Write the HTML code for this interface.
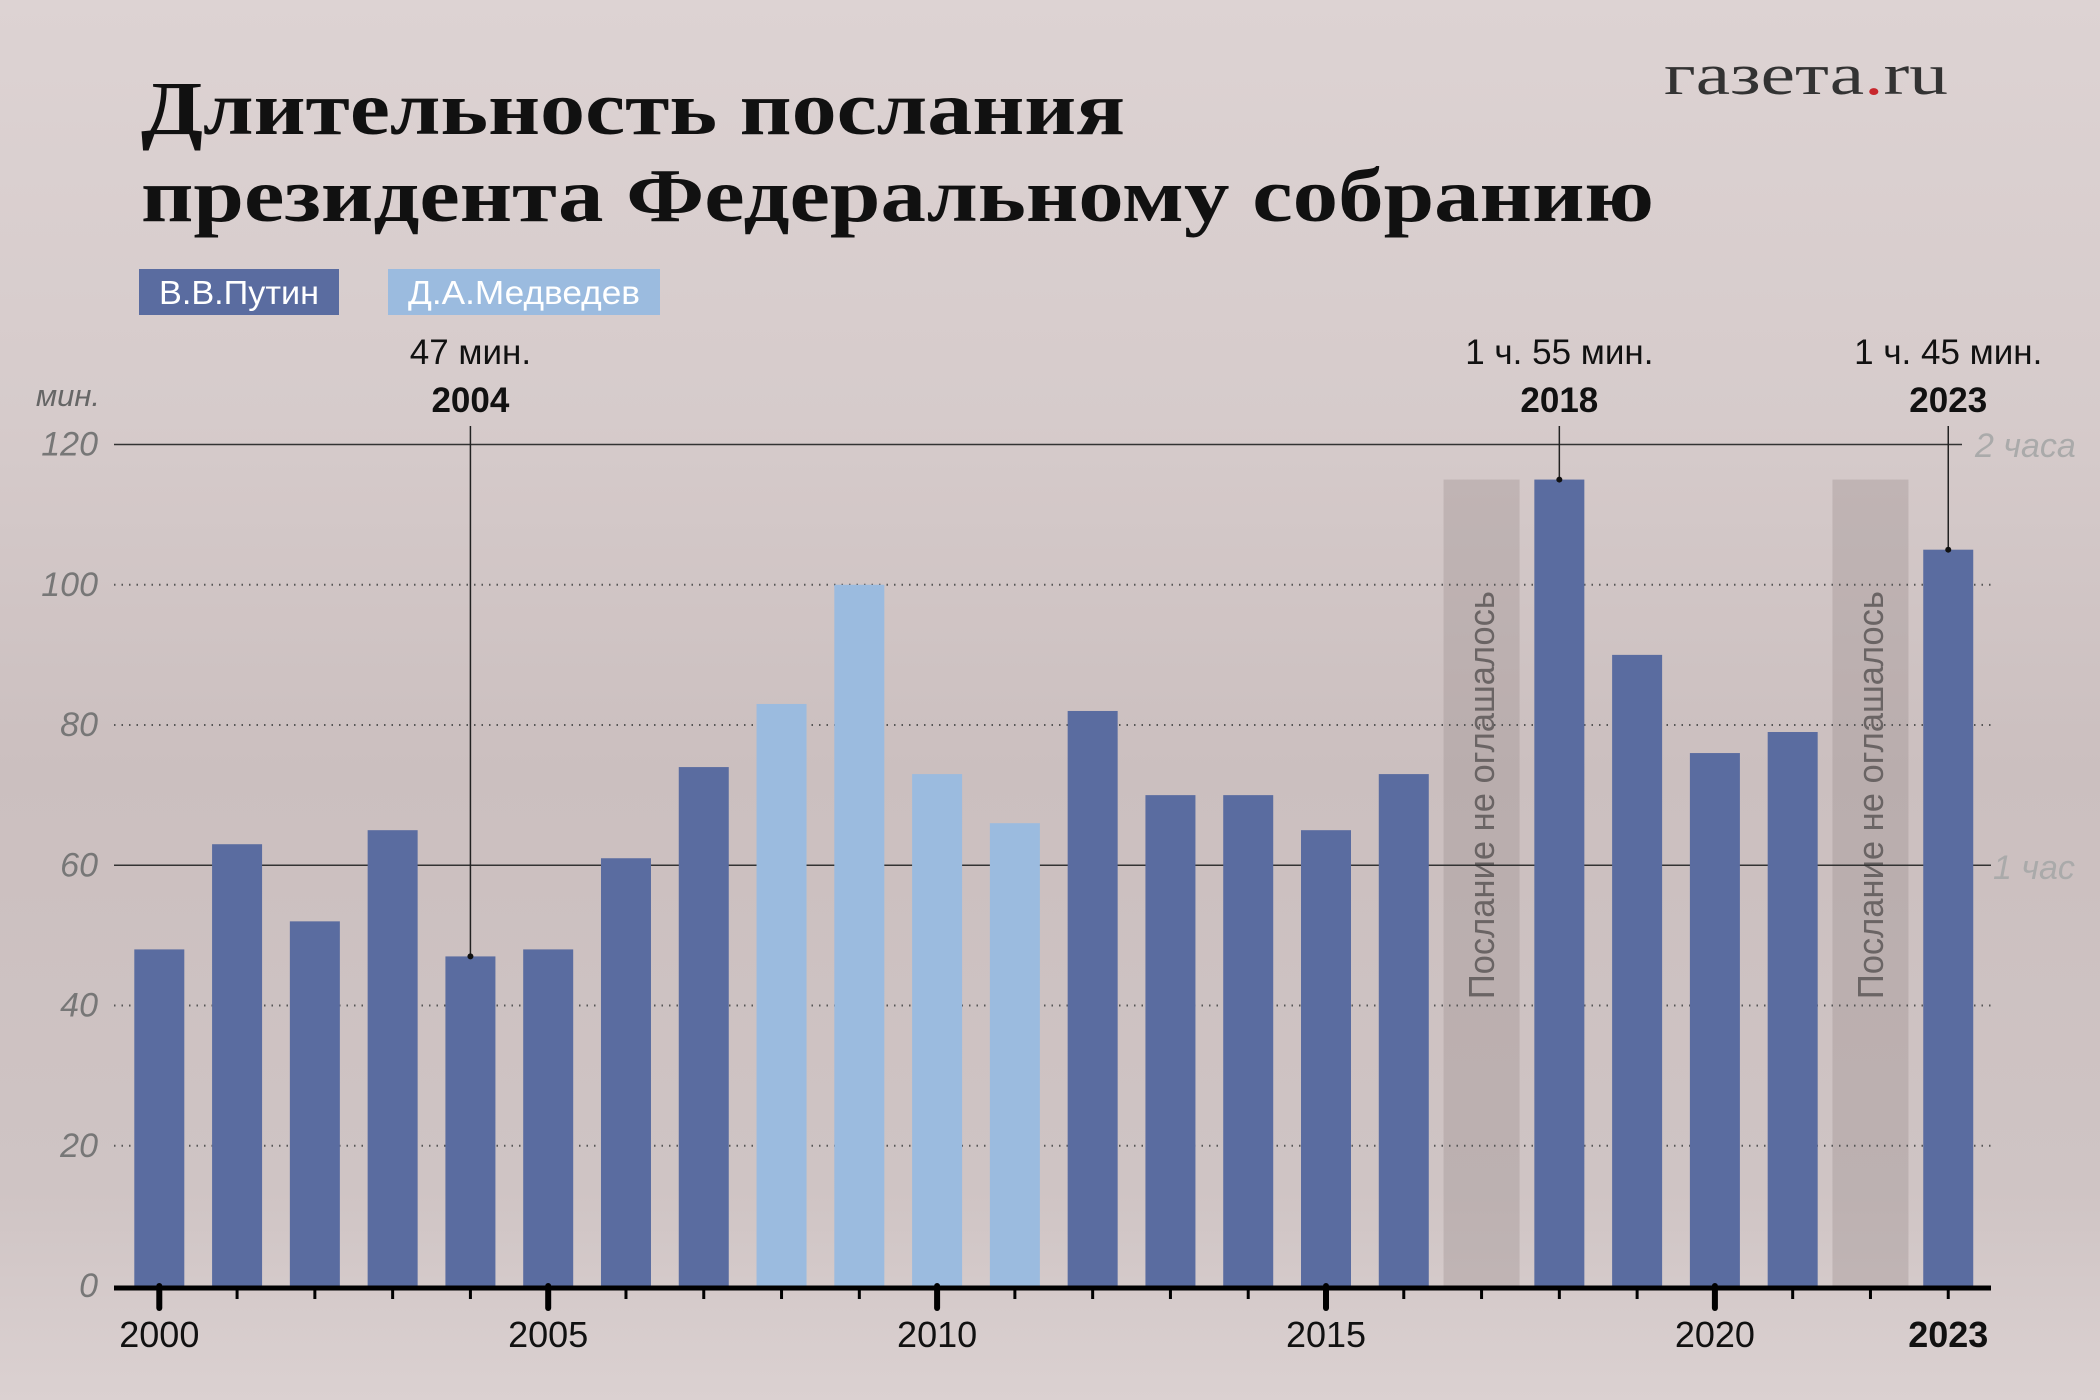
<!DOCTYPE html>
<html><head><meta charset="utf-8">
<style>
html,body{margin:0;padding:0;}
body{width:2100px;height:1400px;overflow:hidden;background:#d8cdcd;}
svg{display:block;}
.cond{font-family:"Liberation Sans Narrow","Liberation Sans",sans-serif;}
</style></head>
<body>
<svg id="chart" width="2100" height="1400" viewBox="0 0 2100 1400" xmlns="http://www.w3.org/2000/svg">
<defs>
<linearGradient id="bg" x1="0" y1="0" x2="0" y2="1">
<stop offset="0" stop-color="#ddd3d3"/>
<stop offset="0.3" stop-color="#d6cbcb"/>
<stop offset="0.55" stop-color="#cbbfbf"/>
<stop offset="0.85" stop-color="#cfc4c4"/>
<stop offset="1" stop-color="#dbd1d1"/>
</linearGradient>
</defs>
<rect x="0" y="0" width="2100" height="1400" fill="url(#bg)"/>
<text x="141" y="134" font-family="Liberation Serif, serif" font-weight="bold" font-size="76" fill="#111" textLength="984" lengthAdjust="spacingAndGlyphs">Длительность послания</text>
<text x="141" y="221" font-family="Liberation Serif, serif" font-weight="bold" font-size="76" fill="#111" textLength="1513" lengthAdjust="spacingAndGlyphs">президента Федеральному собранию</text>
<text x="1664" y="94" font-family="Liberation Serif, serif" font-size="58" fill="#333" textLength="284" lengthAdjust="spacingAndGlyphs">газета<tspan fill="#c8262c">.</tspan>ru</text>
<rect x="139" y="269" width="200" height="46" fill="#5a6ca0"/>
<text class="cond" x="239" y="304" text-anchor="middle" font-size="33" fill="#fff" textLength="160" lengthAdjust="spacingAndGlyphs">В.В.Путин</text>
<rect x="388" y="269" width="272" height="46" fill="#9bbbdf"/>
<text class="cond" x="524" y="304" text-anchor="middle" font-size="33" fill="#fff" textLength="232" lengthAdjust="spacingAndGlyphs">Д.А.Медведев</text>
<g id="plot"></g>
</svg>
<script>
const years = [2000,2001,2002,2003,2004,2005,2006,2007,2008,2009,2010,2011,2012,2013,2014,2015,2016,2017,2018,2019,2020,2021,2022,2023];
const minutes = [48,63,52,65,47,48,61,74,83,100,73,66,82,70,70,65,73,null,115,90,76,79,null,105];
const presidents = ["P","P","P","P","P","P","P","P","M","M","M","M","P","P","P","P","P","-","P","P","P","P","-","P"];
const yTicks = [0,20,40,60,80,100,120];
const xTickLabels = [2000,2005,2010,2015,2020,2023];
const annotations = [{year:2004,text:"47 мин."},{year:2018,text:"1 ч. 55 мин."},{year:2023,text:"1 ч. 45 мин."}];
const missingLabel = "Послание не оглашалось";

const NS="http://www.w3.org/2000/svg";
const g=document.getElementById('plot');
const X0=159.3, XSTEP=77.78, Y0=1286, YPER=(1286-444.5)/120;
const xs=y=>X0+(y-2000)*XSTEP;
const ys=v=>Y0-v*YPER;
function mk(tag,attrs,txt){const e=document.createElementNS(NS,tag);for(const k in attrs)e.setAttribute(k,attrs[k]);if(txt!==undefined)e.textContent=txt;g.appendChild(e);return e;}

years.forEach((yr,i)=>{
  if(minutes[i]===null){
    const r=mk('rect',{x:xs(yr)-38,y:ys(115),width:76,height:Y0-ys(115),fill:'rgba(150,138,138,0.32)'});
    
    
    const cx=xs(yr), cy=ys(70);
    const t=mk('text',{x:cx,y:cy,transform:`rotate(-90 ${cx} ${cy})`,'text-anchor':'middle','dominant-baseline':'central','font-size':'36',fill:'#6a6464',class:'cond',textLength:'408',lengthAdjust:'spacingAndGlyphs'},missingLabel);
    
    
  }
});

yTicks.forEach(v=>{
  if(v===0)return;
  const solid=(v===60||v===120);
  const l=mk('line',{x1:114,x2:(v===120?1962:1991),y1:ys(v),y2:ys(v),stroke:solid?'#333':'#555','stroke-width':solid?1.5:2,'stroke-dasharray':solid?'none':'1.5 6'});
  
  
});
yTicks.forEach(v=>{
  const t=mk('text',{x:98,y:ys(v)+11,'text-anchor':'end','font-size':'34','font-style':'italic',fill:'#777',class:'cond'},String(v));
  
  
});
let u=mk('text',{x:100,y:406,'text-anchor':'end','font-size':'31','font-style':'italic',fill:'#666',class:'cond'},'мин.');


u=mk('text',{x:1975,y:457,'font-size':'34','font-style':'italic',fill:'#aaa',class:'cond'},'2 часа');


u=mk('text',{x:1993,y:879,'font-size':'34','font-style':'italic',fill:'#aaa',class:'cond'},'1 час');



years.forEach((yr,i)=>{
  if(minutes[i]===null)return;
  const b=mk('rect',{x:xs(yr)-25,y:ys(minutes[i]),width:50,height:Y0-ys(minutes[i]),fill:presidents[i]==='M'?'#9bbbdf':'#5a6ca0'});
  
  
});

const ax=mk('line',{x1:114,x2:1991,y1:Y0+2,y2:Y0+2,stroke:'#000','stroke-width':5});


years.forEach(yr=>{
  const major=(yr%5===0);
  const tk=mk('line',{x1:xs(yr),x2:xs(yr),y1:Y0,y2:Y0+(major?22:13),stroke:'#000','stroke-width':major?6:3,'stroke-linecap':major?'round':'butt'});
  
  
});
xTickLabels.forEach(yr=>{
  const t=mk('text',{x:xs(yr),y:1347,'text-anchor':'middle','font-size':'36',fill:'#111','font-weight':yr===2023?'bold':'normal',class:'cond'},String(yr));
  
  
});

annotations.forEach(a=>{
  const i=years.indexOf(a.year), cx=xs(a.year), top=ys(minutes[i]);
  const l=mk('line',{x1:cx,x2:cx,y1:426,y2:top,stroke:'#222','stroke-width':1.5});
  
  
  const d=mk('circle',{cx:cx,cy:top,r:3,fill:'#111'});
  
  
  const t1=mk('text',{x:cx,y:364,'text-anchor':'middle','font-size':'35',fill:'#111',class:'cond'},a.text);
  
  
  const t2=mk('text',{x:cx,y:412,'text-anchor':'middle','font-size':'35','font-weight':'bold',fill:'#111',class:'cond'},String(a.year));
  
  
});
</script>
</body></html>
